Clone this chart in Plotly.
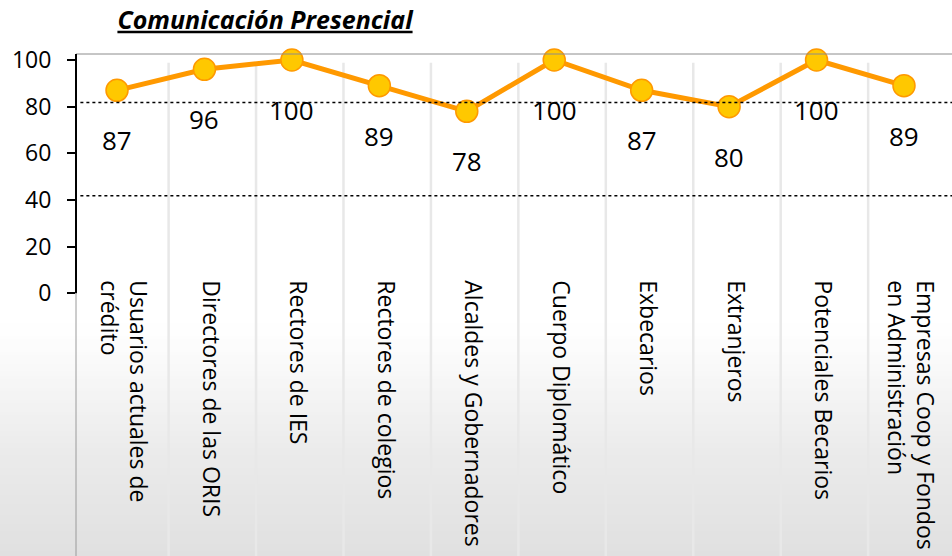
import plotly.graph_objects as go

# data
categories = [
    "Usuarios actuales de<br>crédito",
    "Directores de las ORIS",
    "Rectores de IES",
    "Rectores de colegios",
    "Alcaldes y Gobernadores",
    "Cuerpo Diplomático",
    "Exbecarios",
    "Extranjeros",
    "Potenciales Becarios",
    "Empresas Coop y Fondos<br>en Administración",
]
values = [87, 96, 100, 89, 78, 100, 87, 80, 100, 89]
y_ticks = [0, 20, 40, 60, 80, 100]
ref_lines = [81.8, 41.8]

W, H = 952, 556
Y_RANGE = [-112.6, 102.57]
X_RANGE = [-0.469, 9.549]
FONT = "Open Sans"

fig = go.Figure()

fig.add_trace(
    go.Scatter(
        x=list(range(len(values))),
        y=values,
        mode="lines+markers",
        line=dict(color="#FF9900", width=5),
        marker=dict(size=22, color="#FFC800", line=dict(color="#FF9900", width=1.5)),
        cliponaxis=False,
        hoverinfo="skip",
        showlegend=False,
    )
)

# data labels below each point
for i, v in enumerate(values):
    fig.add_annotation(
        x=i, y=v, text=str(v), showarrow=False, yshift=-50,
        font=dict(family=FONT, size=26, color="#000000"),
    )

shapes = []

# background gradient (white -> light gray toward bottom)
stops = [(320, 255), (360, 250), (400, 243), (450, 235), (556, 224)]
step = 4
for y in range(320, H, step):
    for (ya, ca), (yb, cb) in zip(stops[:-1], stops[1:]):
        if ya <= y < yb:
            c = round(ca + (cb - ca) * (y - ya) / (yb - ya))
            break
    shapes.append(dict(
        type="rect", xref="paper", yref="paper", layer="below",
        x0=-76 / 876, x1=1.0,
        y0=(H - y - step) / 502, y1=(H - y) / 502 + 0.001,
        line=dict(width=0), fillcolor=f"rgb({c},{c},{c})",
    ))

# vertical gridlines
for i in range(len(values) - 1):
    shapes.append(dict(
        type="line", xref="x", yref="paper", layer="below",
        x0=i + 0.59, x1=i + 0.59, y0=0, y1=0.9827,
        line=dict(color="#E8E8E8", width=2.5),
    ))

# dotted horizontal lines
for yv in ref_lines:
    shapes.append(dict(
        type="line", xref="paper", yref="y",
        x0=0.005, x1=1, y0=yv, y1=yv,
        line=dict(color="#000000", width=1.5, dash="dot"),
    ))

# plot border and y-axis line
shapes.append(dict(type="line", xref="paper", yref="paper", x0=0, x1=1, y0=1, y1=1,
                   line=dict(color="#8C8C8C", width=1)))
shapes.append(dict(type="line", xref="paper", yref="y", x0=0, x1=0, y0=Y_RANGE[0], y1=0,
                   line=dict(color="#9A9A9A", width=1)))
shapes.append(dict(type="line", xref="paper", yref="y", x0=0, x1=0, y0=0, y1=Y_RANGE[1],
                   line=dict(color="#000000", width=2)))

fig.update_layout(
    width=W,
    height=H,
    margin=dict(l=76, r=0, t=54, b=0),
    paper_bgcolor="#FFFFFF",
    plot_bgcolor="rgba(0,0,0,0)",
    shapes=shapes,
    title=dict(
        text="<b><i><u>Comunicación Presencial</u></i></b>",
        x=(265 - 76) / 876, xref="paper", xanchor="center",
        y=1 - 20 / H, yref="container", yanchor="middle",
        font=dict(family=FONT, size=25, color="#000000"),
    ),
    xaxis=dict(
        range=X_RANGE,
        tickvals=list(range(len(categories))),
        ticktext=categories,
        tickangle=90,
        anchor="free",
        position=(H - 293.3) / 502,
        showline=False,
        showgrid=False,
        zeroline=False,
        ticks="",
        ticklabelstandoff=-14,
        ticklabelshift=6,
        tickfont=dict(family=FONT, size=23, color="#000000"),
        automargin=False,
    ),
    yaxis=dict(
        range=Y_RANGE,
        tickvals=y_ticks,
        showline=False,
        showgrid=False,
        zeroline=False,
        ticks="outside",
        ticklen=8,
        tickwidth=2,
        tickcolor="#000000",
        ticklabelstandoff=11,
        tickfont=dict(family=FONT, size=23, color="#000000"),
        automargin=False,
    ),
)

fig.write_html(
    "out.html",
    config={"displayModeBar": False},
    post_script="document.body.style.margin='0';document.body.style.overflow='hidden';",
)
